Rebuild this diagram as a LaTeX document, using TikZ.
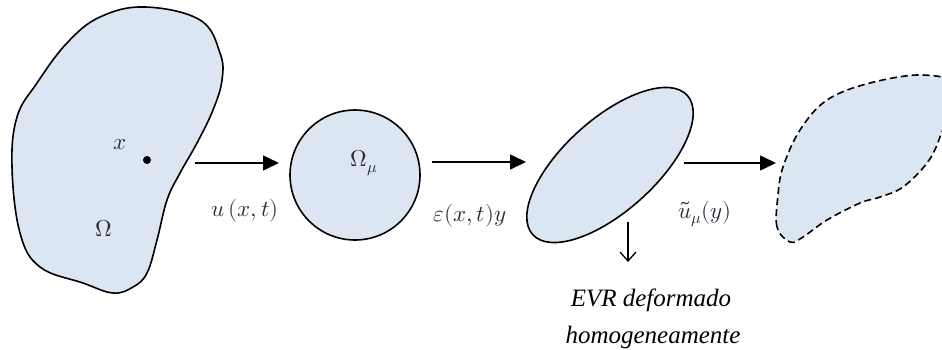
\documentclass[tikz,border=0pt]{standalone}
\usepackage{amsmath}
\usepackage{xcolor}
\usepackage{fontspec}
\usepackage{unicode-math}
\setmainfont{Liberation Serif}
\setmathfont{Latin Modern Math}
\usetikzlibrary{arrows.meta, positioning, shapes.geometric}
\definecolor{ink}{HTML}{000000}
\definecolor{blueA}{HTML}{DCE6F2}
\definecolor{mathInk}{HTML}{2A2A38}
\tikzset{
  region/.style={draw=ink, line width=1.6pt, fill=blueA},
  dashregion/.style={region, dash pattern=on 7pt off 4pt},
  flow/.style={draw=ink, line width=1.6pt, -{Triangle[length=16pt,width=15pt]}},
  pointer/.style={draw=ink, line width=1.3pt, -{Straight Barb[length=9pt,width=16pt]}},
  mathlabel/.style={font=\fontsize{23}{25}\selectfont, text=mathInk, inner sep=0pt},
  note/.style={font=\itshape\fontsize{25}{37}\selectfont, text=ink, inner sep=0pt}
}

\begin{document}
\begin{tikzpicture}[x=1pt,y=1pt]
\useasboundingbox (0,0) rectangle (942,349);

\draw[region] plot[smooth cycle, tension=0.65] coordinates {
  (145,342) (200,329) (220,296) (222,269) (213,239) (197,206) (180,176)
  (167,149) (157,109) (147,76) (133,62) (113,56) (83,66) (40,82)
  (20,116) (12,182) (17,232) (37,266) (67,306) (100,332)};
\node[circle, fill=ink, inner sep=0pt, minimum size=8pt] (pt) at (147,189) {};
\node[mathlabel] (xlab) at (120,204) {$x$};
\node[mathlabel] (omlab) at (104,121) {$\mitOmega$};

\node[region, circle, minimum size=130pt, inner sep=0pt] (rve) at (355,174) {};
\node[mathlabel] (rvelab) at (364,186) {$\mitOmega_\mu$};

\node[region, ellipse, minimum width=208pt, minimum height=92pt, inner sep=0pt, rotate=42] (rvedef) at (610,184) {};

\draw[dashregion] plot[smooth cycle, tension=0.6] coordinates {
  (790,107) (777,122) (778,154) (783,182) (800,219) (827,249) (870,266)
  (923,274) (955,262) (940,212) (927,186) (903,162) (880,152) (860,146)
  (827,129) (803,112)};

\coordinate (a1) at (195,186);
\coordinate (b1) at (279,186);
\coordinate (a2) at (432,187);
\coordinate (b2) at (526,187);
\coordinate (a3) at (684,186);
\coordinate (b3) at (776,186);
\draw[flow] (a1) -- (b1);
\draw[flow] (a2) -- (b2);
\draw[flow] (a3) -- (b3);

\node[mathlabel] (ulab) at (245,138) {$u\,(x,t)$};
\node[mathlabel] (elab) at (470,133) {$\varepsilon(x,t)y$};
\node[mathlabel] (utlab) at (705,135) {$\tilde{u}_\mu(y)$};

\coordinate (d0) at (628,127);
\coordinate (d1) at (628,87);
\draw[pointer] (d0) -- (d1);

\node[note, anchor=base] (evr1) at (651,43) {EVR deformado};
\node[note, anchor=base] (evr2) at (653,6) {homogeneamente};

\end{tikzpicture}
\end{document}
